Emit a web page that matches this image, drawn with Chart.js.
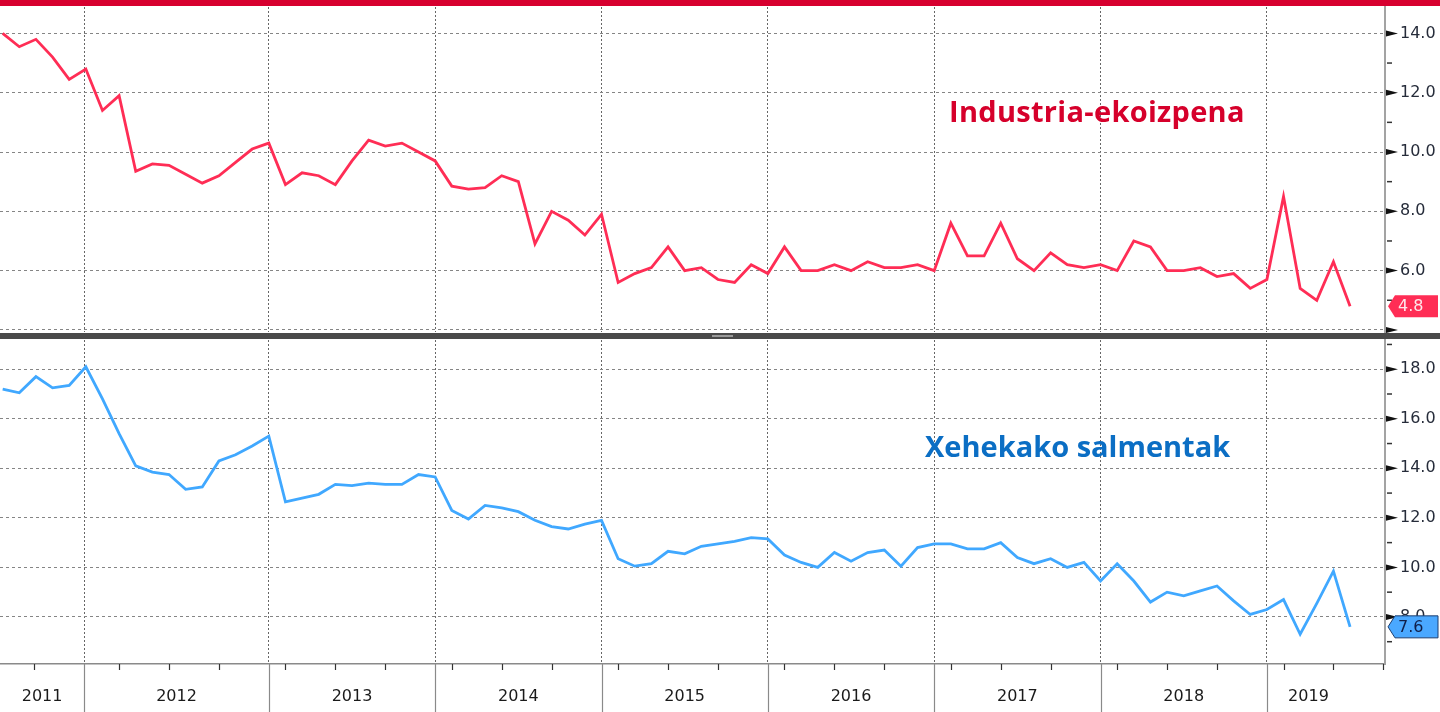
<!DOCTYPE html>
<html>
<head>
<meta charset="utf-8">
<script src="https://cdn.jsdelivr.net/npm/chart.js@4.4.0/dist/chart.umd.min.js"></script>
<style>
  html, body { margin: 0; padding: 0; background: #fff; }
  #wrap { position: relative; width: 1440px; height: 712px; overflow: hidden; background: #fff; }
  #cTop { position: absolute; left: 0; top: 0; }
  #cBottom { position: absolute; left: 0; top: 339px; }
  #topBar { position: absolute; left: 0; top: 0; width: 1440px; height: 6px; background: #d7002f; }
  #sep { position: absolute; left: 0; top: 333px; width: 1440px; height: 6px; background: #4a4a4a; }
  #sepHandle { position: absolute; left: 712px; top: 335px; width: 21px; height: 2px; background: #9a9a9a; }
  .title { position: absolute; font-family: 'Open Sans', sans-serif; font-weight: 700; font-size: 29px; line-height: 29px; white-space: nowrap; }
  #titleTop { left: 949px; top: 96px; color: #d6002b; letter-spacing: 0.3px; }
  #titleBottom { left: 925px; top: 431px; color: #0b6ec4; }
</style>
</head>
<body>
<div id="wrap">
  <canvas id="cTop" width="1440" height="334"></canvas>
  <canvas id="cBottom" width="1440" height="373"></canvas>
  <div id="topBar"></div>
  <div id="sep"></div>
  <div id="sepHandle"></div>
  <div class="title" id="titleTop">Industria-ekoizpena</div>
  <div class="title" id="titleBottom">Xehekako salmentak</div>
</div>
<script>
// one value per release, oldest first (x = release index)
const industrialProduction = [
  14.0, 13.55, 13.8, 13.2, 12.45, 12.8, 11.4, 11.9, 9.35, 9.6,
  9.55, 9.25, 8.95, 9.2, 9.65, 10.1, 10.3, 8.9, 9.3, 9.2,
  8.9, 9.7, 10.4, 10.2, 10.3, 10.0, 9.7, 8.85, 8.75, 8.8,
  9.2, 9.0, 6.9, 8.0, 7.7, 7.2, 7.9, 5.6, 5.9, 6.1,
  6.8, 6.0, 6.1, 5.7, 5.6, 6.2, 5.9, 6.8, 6.0, 6.0,
  6.2, 6.0, 6.3, 6.1, 6.1, 6.2, 6.0, 7.6, 6.5, 6.5,
  7.6, 6.4, 6.0, 6.6, 6.2, 6.1, 6.2, 6.0, 7.0, 6.8,
  6.0, 6.0, 6.1, 5.8, 5.9, 5.4, 5.7, 8.5, 5.4, 5.0,
  6.3, 4.8
];
const retailSales = [
  17.2, 17.05, 17.7, 17.25, 17.35, 18.1, 16.8, 15.4, 14.1, 13.85,
  13.75, 13.15, 13.25, 14.3, 14.55, 14.9, 15.3, 12.65, 12.8, 12.95,
  13.35, 13.3, 13.4, 13.35, 13.35, 13.75, 13.65, 12.3, 11.95, 12.5,
  12.4, 12.25, 11.9, 11.65, 11.55, 11.75, 11.9, 10.35, 10.05, 10.15,
  10.65, 10.55, 10.85, 10.95, 11.05, 11.2, 11.15, 10.5, 10.2, 10.0,
  10.6, 10.25, 10.6, 10.7, 10.05, 10.8, 10.95, 10.95, 10.75, 10.75,
  11.0, 10.4, 10.15, 10.35, 10.0, 10.2, 9.45, 10.15, 9.45, 8.6,
  9.0, 8.85, 9.05, 9.25, 8.65, 8.1, 8.3, 8.7, 7.3, 8.55,
  9.85, 7.6
];
const yearLabels = ['2011', '2012', '2013', '2014', '2015', '2016', '2017', '2018', '2019'];
// release index where each new year starts (2012 ... 2019)
const yearStarts = [4.9, 16, 26, 36, 46, 56, 66, 76];
const topTicks = [4, 5, 6, 7, 8, 9, 10, 11, 12, 13, 14];
const bottomTicks = [7, 8, 9, 10, 11, 12, 13, 14, 15, 16, 17, 18, 19];

const X_MIN = -0.16, X_MAX = 83.1;
const lastIdx = industrialProduction.length - 1;

// year label sits in the middle of its segment
const yearCenters = yearLabels.map((_, k) => {
  const a = k === 0 ? X_MIN : yearStarts[k - 1];
  const b = k < yearStarts.length ? yearStarts[k] : lastIdx;
  return (a + b) / 2;
});
// quarter marks: 3, 6, 9 releases before each year end
const quarterTicks = [];
yearStarts.concat([yearStarts[yearStarts.length - 1] + 10]).forEach(end => {
  [3, 6, 9].forEach(d => {
    const q = end - d;
    if (q > X_MIN + 0.5 && q <= X_MAX) quarterTicks.push(q);
  });
});

Chart.defaults.font.family = '"DejaVu Sans", sans-serif';
Chart.defaults.font.size = 16;

const axisMarks = {
  id: 'axisMarks',
  afterDraw(chart, args, opts) {
    const { ctx, chartArea: area, scales: { x, y } } = chart;
    ctx.save();
    // arrows for labelled ticks, short dashes for the others
    y.ticks.forEach(t => {
      const py = y.getPixelForValue(t.value);
      if (t.value % 2 === 0) {
        ctx.fillStyle = '#111';
        ctx.beginPath();
        ctx.moveTo(area.right + 1, py - 3);
        ctx.lineTo(area.right + 13, py);
        ctx.lineTo(area.right + 1, py + 3);
        ctx.closePath();
        ctx.fill();
      } else {
        ctx.strokeStyle = '#333';
        ctx.lineWidth = 1.5;
        ctx.beginPath();
        ctx.moveTo(area.right + 2, py);
        ctx.lineTo(area.right + 7, py);
        ctx.stroke();
      }
    });
    if (opts.xMarks) {
      ctx.strokeStyle = '#8a8a8a';
      ctx.lineWidth = 1.2;
      yearStarts.forEach(b => {
        const px = Math.round(x.getPixelForValue(b)) + 0.5;
        ctx.beginPath();
        ctx.moveTo(px, area.bottom);
        ctx.lineTo(px, chart.height);
        ctx.stroke();
      });
      ctx.strokeStyle = '#333';
      quarterTicks.forEach(q => {
        const px = Math.round(x.getPixelForValue(q)) + 0.5;
        ctx.beginPath();
        ctx.moveTo(px, area.bottom);
        ctx.lineTo(px, area.bottom + 6);
        ctx.stroke();
      });
    }
    // last value tag
    const data = chart.data.datasets[0].data;
    const last = data[data.length - 1];
    const py = y.getPixelForValue(last.y);
    const x0 = area.right + 3, x1 = x0 + 7, x2 = chart.width - 2, h = 11;
    ctx.beginPath();
    ctx.moveTo(x0, py);
    ctx.lineTo(x1, py - h);
    ctx.lineTo(x2, py - h);
    ctx.lineTo(x2, py + h);
    ctx.lineTo(x1, py + h);
    ctx.closePath();
    ctx.fillStyle = opts.tagFill;
    ctx.fill();
    if (opts.tagStroke) {
      ctx.strokeStyle = opts.tagStroke;
      ctx.lineWidth = 1;
      ctx.stroke();
    }
    ctx.fillStyle = opts.tagText;
    ctx.font = '16px "DejaVu Sans"';
    ctx.textBaseline = 'middle';
    ctx.textAlign = 'left';
    ctx.fillText(last.y.toFixed(1), area.right + 13, py + 1);
    ctx.restore();
  }
};

function makeX(showLabels) {
  const tickVals = showLabels ? yearStarts.concat(yearCenters) : yearStarts.slice();
  return {
    type: 'linear',
    position: 'bottom',
    min: X_MIN,
    max: X_MAX,
    afterBuildTicks(s) {
      s.ticks = tickVals.slice().sort((a, b) => a - b).map(v => ({ value: v }));
    },
    afterFit(s) {
      s.height = showLabels ? 48 : 0;
      s.paddingLeft = 0;
      s.paddingRight = 0;
    },
    grid: {
      drawTicks: false,
      lineWidth: 1,
      color: c => (c.tick && yearStarts.includes(c.tick.value)) ? '#666' : 'rgba(0,0,0,0)'
    },
    border: { display: showLabels, color: '#8a8a8a', width: 1.5, dash: [2, 2] },
    ticks: {
      display: showLabels,
      autoSkip: false,
      maxRotation: 0,
      padding: 23,
      color: '#1a1a1a',
      font: { size: 16 },
      callback: v => {
        const k = yearCenters.indexOf(v);
        return k >= 0 ? yearLabels[k] : '';
      }
    }
  };
}

function makeY(ticks, min, max, minLabel) {
  return {
    position: 'right',
    min: min,
    max: max,
    afterBuildTicks(s) { s.ticks = ticks.map(v => ({ value: v })); },
    afterFit(s) {
      s.width = 55;
      s.paddingTop = 0;
      s.paddingBottom = 0;
    },
    grid: {
      drawTicks: false,
      lineWidth: 1,
      color: c => (c.tick && c.tick.value % 2 === 0) ? '#858585' : 'rgba(0,0,0,0)'
    },
    border: { display: true, color: '#a3a3a3', width: 2, dash: [3, 3] },
    ticks: {
      autoSkip: false,
      padding: 15,
      color: '#262c3a',
      font: { size: 16 },
      callback: v => (v % 2 === 0 && v >= minLabel) ? v.toFixed(1) : ''
    }
  };
}

function makeChart(id, values, color, yTicks, yMin, yMax, minLabel, showX, padTop, padBottom, marks) {
  return new Chart(document.getElementById(id).getContext('2d'), {
    type: 'line',
    data: {
      datasets: [{
        data: values.map((v, i) => ({ x: i, y: v })),
        borderColor: color,
        borderWidth: 2.8,
        pointRadius: 0,
        tension: 0,
        fill: false
      }]
    },
    options: {
      responsive: false,
      animation: false,
      layout: { padding: { top: padTop, bottom: padBottom, left: 0, right: 0 } },
      plugins: {
        legend: { display: false },
        tooltip: { enabled: false },
        axisMarks: marks
      },
      scales: {
        x: makeX(showX),
        y: makeY(yTicks, yMin, yMax, minLabel)
      }
    },
    plugins: [axisMarks]
  });
}

makeChart('cTop', industrialProduction, '#ff2d55', topTicks, 3.93, 14.89, 6, false, 7, 2,
  { xMarks: false, tagFill: '#ff2d55', tagText: '#ffe6ea' });
makeChart('cBottom', retailSales, '#40a8ff', bottomTicks, 6.1, 19.18, 8, true, 1, 0,
  { xMarks: true, tagFill: '#4aa8ff', tagStroke: '#1c3d6e', tagText: '#10204a' });
</script>
</body>
</html>
